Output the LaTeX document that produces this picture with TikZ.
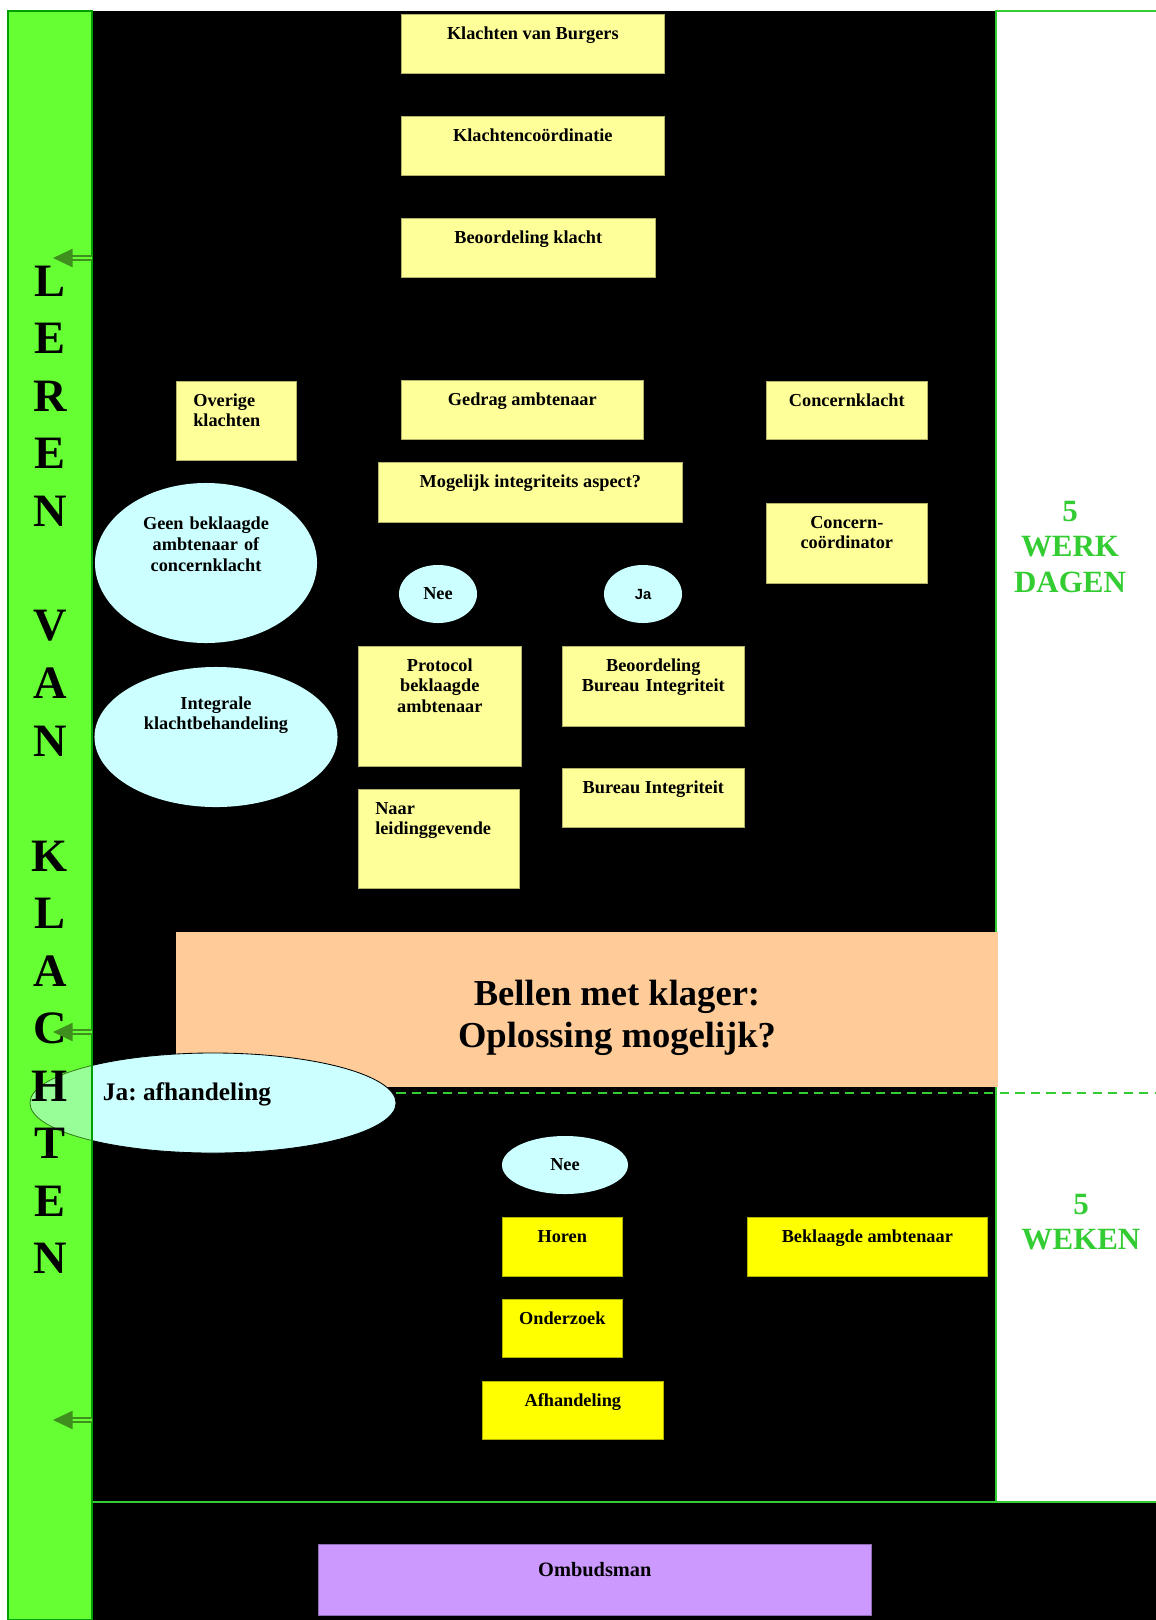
\documentclass[tikz,border=0pt]{standalone}
\usepackage{fontspec}
\setmainfont{Liberation Serif}
\newfontfamily\arialfont{Liberation Sans}
\frenchspacing
\usetikzlibrary{shapes.geometric, arrows.meta}
\definecolor{klgroen}{HTML}{66FF33}
\definecolor{klrand}{HTML}{00A000}
\definecolor{kltekst}{HTML}{33CC33}
\definecolor{klpijl}{HTML}{3F8F1F}
\definecolor{klgeel}{HTML}{FFFF99}
\definecolor{klgeelfel}{HTML}{FFFF00}
\definecolor{klcyaan}{HTML}{CCFFFF}
\definecolor{klperzik}{HTML}{FFCC99}
\definecolor{klpaars}{HTML}{CC99FF}

\begin{document}
\begin{tikzpicture}[x=0.025cm, y=-0.025cm,
    font=\fontsize{13}{14.6}\selectfont\bfseries\frenchspacing,
    vak/.style={draw=black!30!klgeel, fill=klgeel, line width=0.4pt, anchor=north west,
      inner sep=0pt, align=center, text height=0.625cm},
    felvak/.style={vak, draw=black!30!klgeelfel, fill=klgeelfel},
    ovaal/.style={ellipse, fill=klcyaan, inner sep=0pt, align=center},
    letter/.style={inner sep=0pt, font=\fontsize{33}{33}\selectfont\bfseries},
    tijd/.style={align=center, text=kltekst, font=\fontsize{22}{25}\selectfont\bfseries},
    pijl/.style={draw=klpijl, double=klgroen, double distance=1.4pt, line width=1.1pt,
      -{Triangle[length=14pt, width=13pt]}}]
    \useasboundingbox (0,0) rectangle (1156,1620);
    \fill[white] (0,0) rectangle (1156,1620);
    % achtergrond
    \fill[black] (92,11) rectangle (996,1502);
    \fill[black] (92,1502) rectangle (1156,1620);
    \draw[klrand, line width=1pt, fill=klgroen] (8,11) rectangle (92,1620);
    \draw[kltekst, line width=1.5pt] (1156,11) -- (996,11) -- (996,1502);
    \draw[kltekst, line width=1.5pt] (92,1502) -- (1156,1502);
    % eerste lijn
    \node[vak, minimum width=6.575cm, text depth=0.85cm] (burgers) at (401,14) {Klachten van Burgers};
    \node[vak, minimum width=6.575cm, text depth=0.85cm] (coord) at (401,116) {Klachtencoördinatie};
    \node[vak, minimum width=6.35cm, text depth=0.85cm] (beoord) at (401,218) {Beoordeling klacht};
    \node[vak, minimum width=3cm, text depth=1.35cm, text width=2.15cm, align=left] (overig) at (176,381) {Overige\\klachten};
    \node[vak, minimum width=6.05cm, text depth=0.85cm] (gedrag) at (401,380) {Gedrag ambtenaar};
    \node[vak, minimum width=4.025cm, text depth=0.825cm] (concern) at (766,381) {Concernklacht};
    \node[vak, minimum width=7.6cm, text depth=0.875cm] (aspect) at (378,462) {Mogelijk integriteits aspect?};
    \node[vak, minimum width=4.025cm, text depth=1.375cm, text width=3.8cm] (concoord) at (766,503) {Concern-\\coördinator};
    \node[vak, minimum width=4.075cm, text depth=2.375cm, text width=3.8cm] (protocol) at (358,646) {Protocol\\beklaagde\\ambtenaar};
    \node[vak, minimum width=4.55cm, text depth=1.375cm, text width=4.3cm] (bbi) at (562,646) {Beoordeling\\Bureau Integriteit};
    \node[vak, minimum width=4.025cm, text depth=1.85cm, text width=3.175cm, align=left] (naar) at (358,789) {Naar\\leidinggevende};
    \node[vak, minimum width=4.55cm, text depth=0.85cm] (bureau) at (562,768) {Bureau Integriteit};
    % ovalen
    \node[ovaal, minimum width=5.55cm, minimum height=4cm, text width=3.6cm, text height=0.35cm, text depth=2.05cm,
      font=\fontsize{13}{15}\selectfont\bfseries] (geen) at (206,563) {Geen beklaagde\\ambtenaar of\\concernklacht};
    \node[ovaal, minimum width=6.075cm, minimum height=3.5cm, text width=3.9cm, text height=0.35cm, text depth=1.75cm] (integraal) at (216,737) {Integrale\\klachtbehandeling};
    \node[ovaal, minimum width=1.95cm, minimum height=1.45cm] (nee) at (438,594) {Nee};
    \node[ovaal, minimum width=1.95cm, minimum height=1.45cm, font=\arialfont\fontsize{10.5}{12}\selectfont\bfseries] (ja) at (643,594) {Ja};
    % bellen
    \node[fill=klperzik, anchor=north west, inner sep=0pt, minimum width=20.525cm, minimum height=3.875cm] (bellen) at (176,932) {};
    \node[align=center, font=\fontsize{26}{30}\selectfont\bfseries] (bellentekst) at (617,1018) {Bellen met klager:\\Oplossing mogelijk?};
    \coordinate (rand) at (1156,1093);
    \draw[kltekst, line width=1.5pt, dash pattern=on 6.5pt off 4.5pt] (1000,1093) -- (rand);
    \node[ellipse, draw=black, line width=0.6pt, fill=klcyaan, inner sep=0pt, minimum width=9.15cm, minimum height=2.5cm,
      text height=0.4cm, text depth=0.55cm, font=\fontsize{18}{20}\selectfont\bfseries] (jaafh) at (213,1103) {Ja: afhandeling\hspace*{1.3cm}};
    \draw[kltekst, line width=1.5pt, dash pattern=on 6.5pt off 4.5pt] (jaafh.east |- rand) -- (1000,1093);
    % tweede lijn
    \node[ovaal, minimum width=3.15cm, minimum height=1.45cm] (nee2) at (565,1165) {Nee};
    \node[felvak, minimum width=3cm, text depth=0.85cm] (horen) at (502,1217) {Horen};
    \node[felvak, minimum width=6cm, text depth=0.85cm] (beklaagd) at (747,1217) {Beklaagde ambtenaar};
    \node[felvak, minimum width=3cm, text depth=0.825cm] (onderzoek) at (502,1299) {Onderzoek};
    \node[felvak, minimum width=4.525cm, text depth=0.825cm] (afhandeling) at (482,1381) {Afhandeling};
    \node[vak, draw=black!30!klpaars, fill=klpaars, minimum width=13.825cm, text height=0.8cm, text depth=0.975cm,
      font=\fontsize{14.5}{16}\selectfont\bfseries] (ombudsman) at (318,1544) {Ombudsman};
    % leren van klachten
    \draw[klrand, line width=1pt, fill=klgroen, fill opacity=0.5] (8,11) rectangle (92,1620);
    \foreach \l [count=\i from 0] in {L,E,R,E,N,,V,A,N,,K,L,A,C,H,T,E,N}
      \node[letter] (letter\i) at (50,{281+57.5*\i}) {\l};
    \coordinate (p1a) at (92,258);  \coordinate (p1b) at (53,258);
    \coordinate (p2a) at (92,1032); \coordinate (p2b) at (53,1032);
    \coordinate (p3a) at (92,1420); \coordinate (p3b) at (53,1420);
    \draw[pijl] (p1a) -- (p1b);
    \draw[pijl] (p2a) -- (p2b);
    \draw[pijl] (p3a) -- (p3b);
    % termijnen
    \node[tijd] (werkdagen) at (1070,547) {5\\WERK\\DAGEN};
    \node[tijd] (weken) at (1081,1222) {5\\WEKEN};
\end{tikzpicture}
\end{document}
